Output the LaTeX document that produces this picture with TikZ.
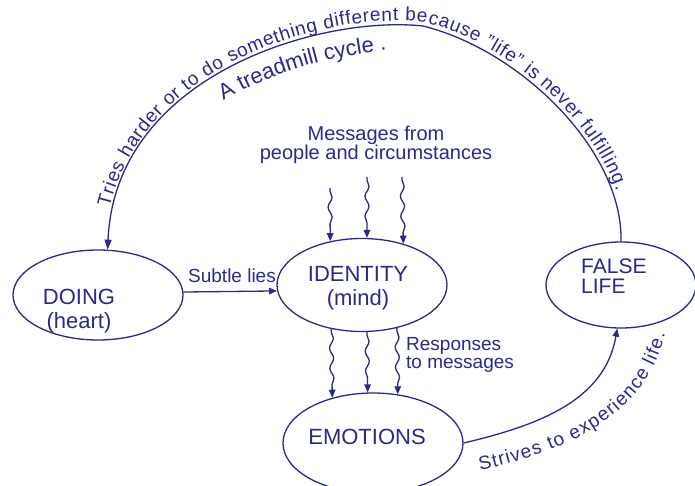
\documentclass[tikz,border=0pt]{standalone}
\usepackage{fontspec}
\setmainfont{Liberation Sans}
\usetikzlibrary{shapes.geometric,arrows.meta,decorations.pathmorphing,decorations.text}
\definecolor{ink}{RGB}{42,40,140}
\begin{document}
\begin{tikzpicture}[x=1pt,y=-1pt,
  ell/.style={ellipse,draw=ink,line width=1.3pt,inner sep=0pt},
  lbl/.style={text=ink,font=\fontsize{22}{24}\selectfont,inner sep=0pt,align=center},
  smalltxt/.style={text=ink,font=\fontsize{19}{18}\selectfont,inner sep=0pt},
  conn/.style={draw=ink,line width=1.3pt},
  arr/.style={-{Triangle[length=8pt,width=6.5pt]}},
  wavy/.style={decorate,decoration={snake,amplitude=2pt,segment length=20pt,pre length=3pt,post length=8pt}}]
\useasboundingbox (0,0) rectangle (695,486);
% nodes
\node[ell,minimum width=170pt,minimum height=90pt] (doing) at (98,295) {};
\node[ell,minimum width=170pt,minimum height=93pt] (idt) at (362,285) {};
\node[ell,minimum width=180pt,minimum height=100pt] (emo) at (373,443) {};
\node[ell,minimum width=150pt,minimum height=86pt] (fl) at (621,285) {};
\node[lbl] (doingl) at (79,311) {DOING\\(heart)};
\node[lbl] (idtl) at (358,288) {IDENTITY\\(mind)};
\node[lbl] (emol) at (367,437) {EMOTIONS};
\node[lbl,align=left,anchor=west,font=\fontsize{21}{20}\selectfont] (fll) at (581,276) {FALSE\\LIFE};
\node[smalltxt,align=center,font=\fontsize{20}{18}\selectfont] (msg) at (376,145) {Messages from\\people and circumstances};
\node[smalltxt,align=left,anchor=north west] (resp) at (406,337) {Responses\\to messages};
\node[smalltxt] (subtle) at (232,276) {Subtle lies};
% connectors
\draw[conn,arr] (doing.2) -- (idt.184);
\coordinate (m1) at (330,188);
\coordinate (m2) at (367,177);
\coordinate (m3) at (402,177);
\draw[conn,arr,wavy] (m1) -- (idt.126.7);
\draw[conn,arr,wavy] (m2) -- (idt.84);
\draw[conn,arr,wavy] (m3) -- (idt.45);
\draw[conn,arr,wavy] (idt.235.4) -- (emo.132.7);
\draw[conn,arr,wavy] (idt.276.2) -- (emo.96.9);
\draw[conn,arr,wavy] (idt.309.5) -- (emo.63.5);
\draw[conn,arr] (emo.east) .. controls (540,425) and (605,400) .. (fl.265);
\draw[conn,{Triangle[length=10pt,width=7pt]}-] (doing.78) .. controls (115,75) and (320,15) .. (423,26) .. controls (520,50) and (623,150) .. (fl.north);
% texts along curves
\path[decorate,decoration={text along path,
  text={|\fontsize{19}{19}\selectfont|Tries harder or to do something different because "life" is never fulfilling.},
  text color=ink, text align={fit to path, left indent=42pt, right indent=50pt}, raise=4pt}]
  (doing.78) .. controls (115,75) and (320,15) .. (423,26) .. controls (520,50) and (623,150) .. (fl.north);
\path[decorate,decoration={text along path,
  text={|\fontsize{22}{22}\selectfont|A treadmill cycle .},
  text color=ink, text align=center}]
  (212,108) .. controls (262,76) and (320,56) .. (400,49);
\path[decorate,decoration={text along path,
  text={|\fontsize{19}{19}\selectfont|Strives to experience life.},
  text color=ink, text align={fit to path}}]
  (480,470) .. controls (566,452) and (646,416) .. (665,334);
\end{tikzpicture}
\end{document}
